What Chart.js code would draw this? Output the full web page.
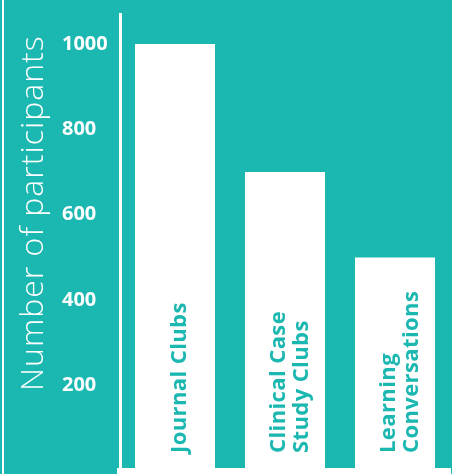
<!DOCTYPE html>
<html>
<head>
<meta charset="utf-8">
<script src="https://cdn.jsdelivr.net/npm/chart.js@4"></script>
<style>
  html, body { margin: 0; padding: 0; background: #1bb7b1; }
  #wrap { width: 452px; height: 474px; position: relative; }
</style>
</head>
<body>
<div id="wrap"><canvas id="chart"></canvas></div>
<script>
const categories = [['Journal Clubs'], ['Clinical Case', 'Study Clubs'], ['Learning', 'Conversations']];
const participants = [1000, 700, 500];
const tickValues = [200, 400, 600, 800, 1000];
const axisTitle = 'Number of participants';

const teal = '#1bb7b1';

// background, thin left rule, labels inside the bars and the axis title
const decor = {
  id: 'decor',
  beforeDraw(chart) {
    const ctx = chart.ctx;
    ctx.save();
    ctx.fillStyle = teal;
    ctx.fillRect(0, 0, chart.width, chart.height);
    ctx.fillStyle = '#fff';
    ctx.fillRect(2, 0, 2, chart.height);
    ctx.restore();
  },
  afterDatasetsDraw(chart) {
    const ctx = chart.ctx;
    const bars = chart.getDatasetMeta(0).data;
    ctx.save();
    ctx.fillStyle = teal;
    ctx.font = 'bold 22px "Open Sans"';
    ctx.letterSpacing = '0.4px';
    ctx.textAlign = 'left';
    ctx.textBaseline = 'alphabetic';
    bars.forEach((bar, i) => {
      const lines = categories[i];
      lines.forEach((line, j) => {
        const bx = bar.x + 11 + (j - (lines.length - 1) / 2) * 23;
        ctx.save();
        ctx.translate(bx, 453);
        ctx.rotate(-Math.PI / 2);
        ctx.fillText(line, 0, 0);
        ctx.restore();
      });
    });
    ctx.restore();
  },
  afterDraw(chart) {
    const ctx = chart.ctx;
    ctx.save();
    ctx.fillStyle = '#fff';
    ctx.font = '300 32px "Open Sans"';
    ctx.letterSpacing = '1px';
    ctx.textAlign = 'left';
    ctx.textBaseline = 'alphabetic';
    ctx.translate(43, 391);
    ctx.rotate(-Math.PI / 2);
    ctx.fillText(axisTitle, 0, 0);
    ctx.restore();
  }
};

new Chart(document.getElementById('chart'), {
  type: 'bar',
  data: {
    labels: categories,
    datasets: [{
      data: participants,
      backgroundColor: '#fff',
      borderWidth: 0,
      barPercentage: 80 / 110,
      categoryPercentage: 1
    }]
  },
  options: {
    responsive: true,
    maintainAspectRatio: false,
    animation: false,
    layout: { padding: { left: 62, top: 14, right: 2, bottom: 0 } },
    plugins: { legend: { display: false }, tooltip: { enabled: false } },
    scales: {
      x: {
        grid: { display: false },
        ticks: { display: false },
        border: { color: '#fff', width: 6 },
        afterFit(s) { s.height = 3; s.paddingLeft = 0; s.paddingRight = 0; }
      },
      y: {
        min: 0,
        max: 1070,
        grid: { display: false },
        border: { color: '#fff', width: 3 },
        afterBuildTicks(s) { s.ticks = tickValues.map(v => ({ value: v })); },
        afterFit(s) { s.width = 58; s.paddingTop = 0; s.paddingBottom = 0; },
        ticks: {
          crossAlign: 'far',
          padding: 0,
          color: '#fff',
          font: { family: 'Open Sans', weight: 'bold', size: 20 },
          callback: v => String(v)
        }
      }
    }
  },
  plugins: [decor]
});
</script>
</body>
</html>
